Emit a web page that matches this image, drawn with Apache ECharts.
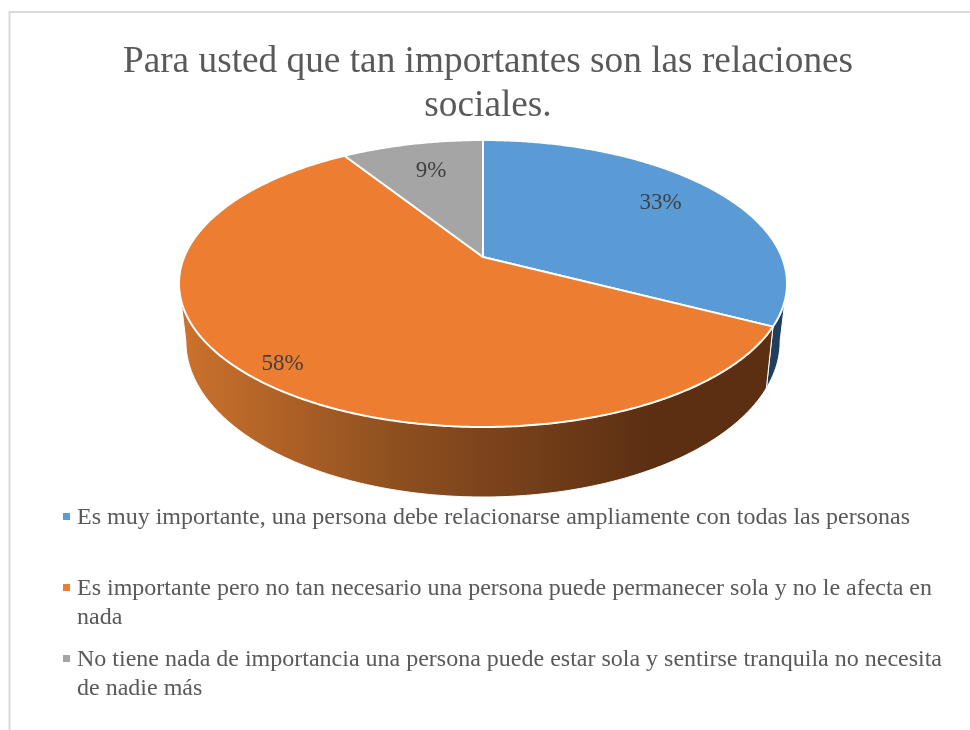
<!DOCTYPE html>
<html>
<head>
<meta charset="utf-8">
<style>html,body{margin:0;padding:0;background:#fff}#c{width:970px;height:730px}</style>
<script src="https://cdn.jsdelivr.net/npm/echarts@6/dist/echarts.min.js"></script>
</head>
<body>
<div id="c"></div>
<script>
const chartTitle = 'Para usted que tan importantes son las relaciones\nsociales.';
const categories = [
  'Es muy importante, una persona debe relacionarse ampliamente con todas las personas',
  'Es importante pero no tan necesario una persona puede permanecer sola y no le afecta en nada',
  'No tiene nada de importancia una persona puede estar sola y sentirse tranquila no necesita de nadie más'
];
const legendLines = [
  ['Es muy importante, una persona debe relacionarse ampliamente con todas las personas', ' '],
  ['Es importante pero no tan necesario una persona puede permanecer sola y no le afecta en', 'nada'],
  ['No tiene nada de importancia una persona puede estar sola y sentirse tranquila no necesita', 'de nadie más']
];
const values = [32.6, 58.4, 9];
const colors = ['#5B9BD5', '#EC7D31', '#A5A5A5'];
const labelRadius = [0.745, 0.875, 0.7];
const labelShiftY = [-4, 5, -3];

const FONT = '"Liberation Serif","Times New Roman",serif';
const CX = 483;
const TILT = 0.1847;
const TOP = {a: 298.8, b: 138.6, c: 257};
const BOTTOM = {a: 292, b: 150.5, c: 312.4};
const VIS = [100.6, 259.4];
const total = values.reduce((s, v) => s + v, 0);

function pt(e, deg, r) {
  const t = deg * Math.PI / 180, u = Math.sin(t) * r, v = -Math.cos(t) * r;
  const d = 1 - TILT * v;
  return [CX + e.a * u / d, e.c + e.b * v / d];
}
function arc(e, a0, a1) {
  const out = [], n = Math.max(2, Math.ceil(Math.abs(a1 - a0) * 2));
  for (let i = 0; i <= n; i++) out.push(pt(e, a0 + (a1 - a0) * i / n, 1));
  return out;
}
function startAngle(i) {
  return values.slice(0, i).reduce((s, v) => s + v, 0) / total * 360;
}
const wallFill = [
  '#1F3F5C',
  {type: 'linear', global: true, x: 180, y: 0, x2: 650, y2: 0, colorStops: [
    {offset: 0, color: '#CC722D'}, {offset: 0.45, color: '#8F5020'}, {offset: 1, color: '#5C2F13'}
  ]},
  '#606060'
];

function renderSlice(params, api) {
  const i = params.seriesIndex;
  const a0 = startAngle(i), a1 = a0 + api.value(0) / total * 360;
  const children = [];
  const w0 = Math.max(a0, VIS[0]), w1 = Math.min(a1, VIS[1]);
  if (w1 > w0) {
    children.push({
      type: 'polygon',
      shape: {points: arc(TOP, w0, w1).concat(arc(BOTTOM, w1, w0))},
      style: {fill: wallFill[i], stroke: '#fff', lineWidth: 1}
    });
  }
  children.push({
    type: 'polygon',
    z2: 5,
    shape: {points: [pt(TOP, 0, 0)].concat(arc(TOP, a0, a1))},
    style: {fill: colors[i], stroke: '#fff', lineWidth: 2, lineJoin: 'round'}
  });
  const lp = pt(TOP, (a0 + a1) / 2, labelRadius[i]);
  children.push({
    type: 'text',
    z2: 10,
    x: lp[0], y: lp[1] + labelShiftY[i],
    style: {text: Math.round(values[i]) + '%', font: '23px ' + FONT, fill: '#404040', align: 'center', verticalAlign: 'middle'}
  });
  return {type: 'group', children};
}

const chart = echarts.init(document.getElementById('c'), null, {renderer: 'canvas'});
chart.setOption({
  animation: false,
  backgroundColor: '#fff',
  title: {
    text: chartTitle,
    left: 483, top: 35,
    textAlign: 'center',
    textStyle: {fontFamily: FONT, fontSize: 37.3, fontWeight: 'normal', color: '#595959', lineHeight: 44}
  },
  legend: {
    orient: 'vertical',
    left: 63, top: 503.5,
    padding: 0,
    itemGap: 13,
    itemWidth: 9,
    itemHeight: 58,
    icon: 'path://M0 0h.01v.01zM0 9.5h7v7h-7zM9 58h.01v.01z',
    selectedMode: false,
    data: categories,
    formatter: n => legendLines[categories.indexOf(n)].join('\n'),
    textStyle: {fontFamily: FONT, fontSize: 24, color: '#595959', lineHeight: 29}
  },
  graphic: [{
    type: 'rect', silent: true, z: -1,
    shape: {x: 9.5, y: 12, width: 980, height: 760},
    style: {fill: 'none', stroke: '#D9D9D9', lineWidth: 2}
  }],
  series: categories.map((name, i) => ({
    type: 'custom',
    name,
    coordinateSystem: 'none',
    itemStyle: {color: colors[i]},
    renderItem: renderSlice,
    data: [[values[i]]]
  }))
});
</script>
</body>
</html>
